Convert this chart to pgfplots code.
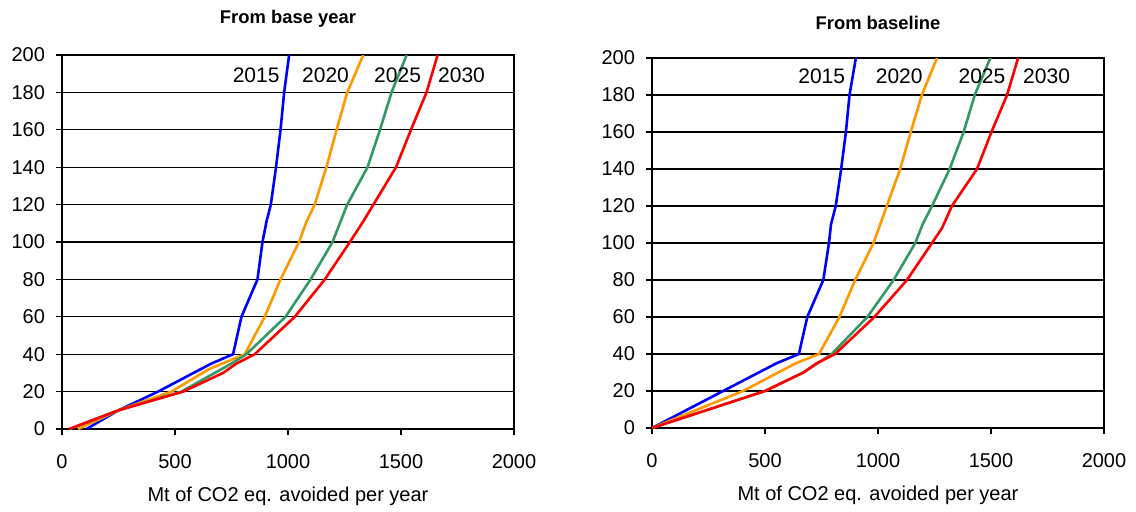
\documentclass[border=0pt]{standalone}
\usepackage{fontspec}
\setmainfont{Liberation Sans}
\usepackage{pgfplots}
\pgfplotsset{compat=1.18}
\definecolor{c2015}{RGB}{0,0,255}
\definecolor{c2020}{RGB}{255,153,0}
\definecolor{c2025}{RGB}{51,153,102}
\definecolor{c2030}{RGB}{255,0,0}
\pgfplotsset{
  mac/.style={
    scale only axis,
    width=226pt,
    xmin=0, xmax=2000, ymin=0, ymax=200,
    xtick={0,500,...,2000},
    ytick={0,20,...,200},
    tick align=outside,
    major tick length=3pt,
    ymajorgrids,
    grid style={black, line width=0.6pt},
    axis line style={black, line width=0.6pt},
    tick style={black, line width=0.6pt},
    xtick pos=bottom, ytick pos=left,
    /pgf/number format/assume math mode=true,
    /pgf/number format/1000 sep={},
    tick label style={font=\fontsize{10}{12}\selectfont},
    xticklabel style={yshift=-6pt},
    yticklabel style={xshift=-2pt},
    xlabel={Mt of CO2 eq. avoided per year},
    xlabel style={font=\fontsize{10}{12}\selectfont, yshift=-2.5pt},
    title style={font=\fontsize{9.2}{11}\selectfont\bfseries, yshift=4.5pt},
    every axis plot/.append style={line width=1.3pt, mark=none},
    clip=true,
  },
}
\begin{document}
\begin{tikzpicture}
\useasboundingbox (-31pt,-41pt) rectangle (537pt,214.5pt);
% Avoided emissions measured from the base year
\begin{axis}[mac, height=187pt, title={From base year}]
\addplot[c2015] coordinates {(108,0) (250,10) (425,20) (661,35) (757,40) (794,60) (865,80) (887,100) (905,111) (924,120) (947,140) (967,160) (983,180) (1005,200)};
\addplot[c2020] coordinates {(71,0) (250,10) (484,20) (650,32) (809,40) (897,60) (967,80) (1049,100) (1082,111) (1118,120) (1170,140) (1215,160) (1262,180) (1333,200)};
\addplot[c2025] coordinates {(34,0) (250,10) (528,20) (750,35) (816,40) (989,60) (1100,80) (1197,100) (1262,120) (1352,140) (1407,160) (1458,180) (1525,200)};
\addplot[c2030] coordinates {(31,0) (250,10) (536,20) (713,30) (772,35) (853,40) (1030,60) (1163,80) (1274,100) (1333,111) (1478,140) (1544,160) (1613,180) (1662,200)};
\node[font=\fontsize{10.5}{12}\selectfont] at (axis cs:859,189) {2015};
\node[font=\fontsize{10.5}{12}\selectfont] at (axis cs:1166,189) {2020};
\node[font=\fontsize{10.5}{12}\selectfont] at (axis cs:1485,189) {2025};
\node[font=\fontsize{10.5}{12}\selectfont] at (axis cs:1768,189) {2030};
\end{axis}
% Avoided emissions measured from the baseline
\begin{axis}[mac, height=185pt, at={(295pt,0.5pt)}, title={From baseline}]
\addplot[c2015] coordinates {(0,0) (551,35) (650,40) (687,60) (758,80) (783,100) (792,110) (813,120) (837,140) (858,160) (874,180) (902,200)};
\addplot[c2020] coordinates {(0,0) (403,20) (636,35) (739,40) (829,60) (899,80) (980,100) (1039,120) (1098,140) (1145,160) (1194,180) (1261,200)};
\addplot[c2025] coordinates {(0,0) (500,20) (670,30) (795,40) (953,60) (1069,80) (1165,100) (1197,110) (1239,120) (1317,140) (1379,160) (1428,180) (1497,200)};
\addplot[c2030] coordinates {(0,0) (500,20) (670,30) (729,35) (810,40) (984,60) (1128,80) (1239,100) (1283,108) (1327,120) (1438,140) (1502,160) (1571,180) (1620,200)};
\node[font=\fontsize{10.5}{12}\selectfont] at (axis cs:751,190) {2015};
\node[font=\fontsize{10.5}{12}\selectfont] at (axis cs:1094,190) {2020};
\node[font=\fontsize{10.5}{12}\selectfont] at (axis cs:1460,190) {2025};
\node[font=\fontsize{10.5}{12}\selectfont] at (axis cs:1746,190) {2030};
\end{axis}
\end{tikzpicture}
\end{document}
